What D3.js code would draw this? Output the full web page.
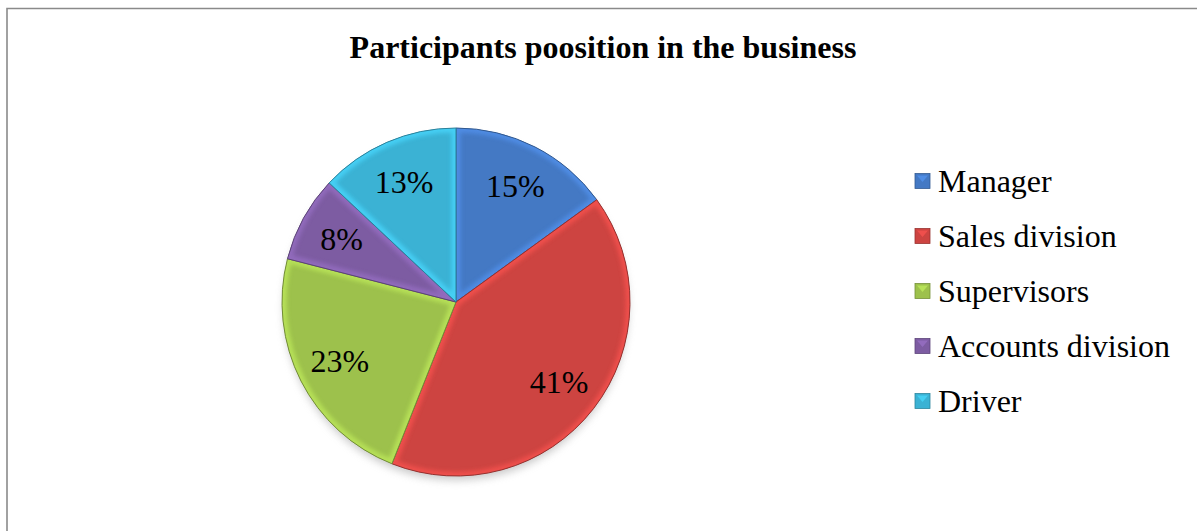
<!DOCTYPE html>
<html>
<head>
<meta charset="utf-8">
<script src="https://cdn.jsdelivr.net/npm/d3@7"></script>
<style>
  html, body { margin: 0; padding: 0; background: #fff; }
  svg { display: block; }
  .serif { font-family: "Liberation Serif", "Times New Roman", Times, "DejaVu Serif", serif; }
</style>
</head>
<body>
<svg id="chart" width="1197" height="531"></svg>
<script>
// Share of participants by position in the business
const categories = ["Manager", "Sales division", "Supervisors", "Accounts division", "Driver"];
const shares = [15, 41, 23, 8, 13];
const colors = ["#4479c4", "#cd4441", "#9dc14c", "#7d5ca2", "#3bb2d4"];
const titleText = "Participants poosition in the business";

const svg = d3.select("#chart");
const W = 1197, H = 531;
const cx = 456, cy = 302, R = 174;

// chart frame
svg.append("path")
  .attr("d", `M7,${H + 2} V8.5 H${W + 2}`)
  .attr("fill", "none")
  .attr("stroke", "#8a8a8a")
  .attr("stroke-width", 1.6);

// title
svg.append("text")
  .attr("class", "serif")
  .attr("x", 603).attr("y", 58)
  .attr("text-anchor", "middle")
  .attr("font-weight", "bold")
  .attr("font-size", 32)
  .attr("fill", "#000")
  .text(titleText);

const defs = svg.append("defs");
defs.append("filter").attr("id", "shadow")
  .attr("x", "-20%").attr("y", "-20%").attr("width", "140%").attr("height", "140%")
  .append("feGaussianBlur").attr("stdDeviation", 4);
defs.append("filter").attr("id", "soft")
  .attr("x", "-20%").attr("y", "-20%").attr("width", "140%").attr("height", "140%")
  .append("feGaussianBlur").attr("stdDeviation", 2.2);

const pie = d3.pie().sort(null).value(d => d.v);
const arcs = pie(categories.map((c, i) => ({ c, v: shares[i], col: colors[i] })));
const arc = d3.arc().innerRadius(0).outerRadius(R);

const g = svg.append("g").attr("transform", `translate(${cx},${cy})`);

// soft drop shadow under the pie
g.append("circle")
  .attr("cx", 0).attr("cy", 6).attr("r", R - 2)
  .attr("fill", "#9a9a9a")
  .attr("opacity", 0.55)
  .attr("filter", "url(#shadow)");

// slice clip paths for the bevel highlight
arcs.forEach((d, i) => {
  defs.append("clipPath").attr("id", "clip" + i)
    .append("path").attr("d", arc(d));
});

const slices = g.selectAll("g.slice").data(arcs).enter().append("g").attr("class", "slice");

slices.append("path")
  .attr("d", arc)
  .attr("fill", d => d.data.col);

// light inner band along each slice edge
slices.append("g")
  .attr("clip-path", (d, i) => `url(#clip${i})`)
  .append("path")
  .attr("d", arc)
  .attr("fill", "none")
  .attr("stroke", d => d3.color(d.data.col).brighter(0.55))
  .attr("stroke-width", 9)
  .attr("opacity", 0.75)
  .attr("filter", "url(#soft)");

// darker outline
slices.append("path")
  .attr("d", arc)
  .attr("fill", "none")
  .attr("stroke", d => d3.color(d.data.col).darker(0.9))
  .attr("stroke-width", 1)
  .attr("stroke-linejoin", "round");

// percentage labels
const labelArc = d3.arc().innerRadius(R * 0.75).outerRadius(R * 0.75);
slices.append("text")
  .attr("class", "serif")
  .attr("transform", d => `translate(${labelArc.centroid(d)})`)
  .attr("text-anchor", "middle")
  .attr("dy", "0.35em")
  .attr("font-size", 32)
  .attr("fill", "#000")
  .text(d => d.data.v + "%");

// legend
const legendY = d3.scalePoint().domain(categories).range([181, 401]);
const leg = svg.append("g");
const items = leg.selectAll("g").data(arcs).enter().append("g")
  .attr("transform", d => `translate(915,${legendY(d.data.c)})`);
items.append("rect")
  .attr("x", 0).attr("y", -7.5).attr("width", 15).attr("height", 15)
  .attr("fill", d => d.data.col)
  .attr("stroke", d => d3.color(d.data.col).darker(0.8))
  .attr("stroke-width", 0.8);
items.append("path")
  .attr("d", "M2,-5.5 L13,-5.5 L7.5,1 Z")
  .attr("fill", d => d3.color(d.data.col).brighter(0.6))
  .attr("opacity", 0.7);
items.append("text")
  .attr("class", "serif")
  .attr("x", 23).attr("y", 0).attr("dy", "0.35em")
  .attr("font-size", 32)
  .attr("fill", "#000")
  .text(d => d.data.c);
</script>
</body>
</html>
